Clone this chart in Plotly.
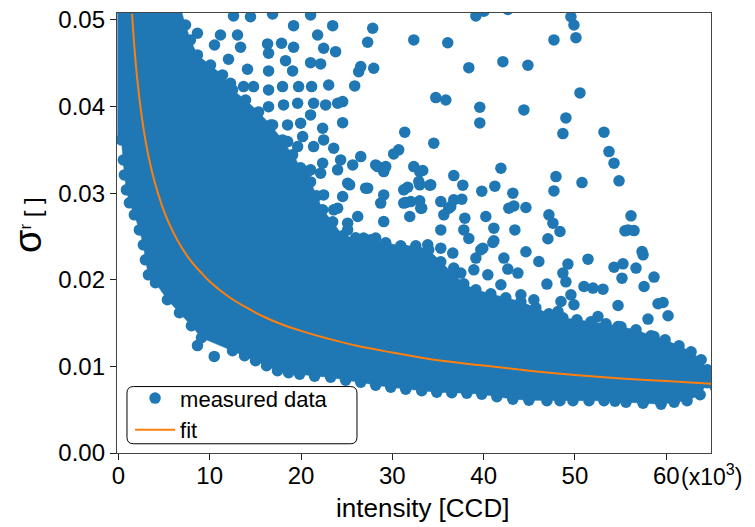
import plotly.graph_objects as go

# ---- measured data: isolated points (intensity in 10^3 CCD, sigma_r) ----
meas_x = [39.15, 40.02, 42.65, 49.56, 49.89, 36.07, 47.70, 50.11, 38.38, 42.11,
          44.85, 34.76, 35.86, 39.58, 44.41, 50.55, 49.01, 39.58, 48.68, 53.18,
          34.54, 53.73, 54.28, 54.83, 41.89, 47.92, 50.77, 36.73, 37.72, 33.33,
          34.10, 41.23, 39.80, 43.20, 47.70, 35.31, 36.73, 37.61, 36.18, 35.64,
          37.94, 40.24, 42.76, 43.31, 44.63, 47.15, 56.14, 55.81, 47.59, 41.12,
          43.42, 37.83, 35.31, 31.69, 33.00, 34.21, 31.47, 33.00, 33.22, 36.40,
          48.36, 47.04, 55.48, 56.47, 31.91, 38.38, 41.12, 39.91, 39.15, 42.22,
          44.63, 46.05, 49.23, 51.43, 48.68, 49.01, 46.93, 42.65, 43.75, 54.28,
          55.26, 55.15, 56.69, 57.35, 57.46, 58.66, 57.57, 50.99, 51.97, 53.07,
          54.72, 59.10, 59.65, 60.20, 58.00, 52.52, 49.56, 48.47, 49.89, 48.14,
          33.88, 35.31, 36.62, 39.69, 41.01, 58.66, 54.72, 37.83, 38.93, 36.73,
          37.50, 38.93, 40.46, 41.89, 44.08, 45.50, 19.19, 23.47, 27.85, 32.35,
          21.82, 27.30, 16.34, 17.87, 19.19, 22.48, 23.79, 16.45, 18.31, 21.05,
          22.15, 26.54, 27.96, 26.32, 19.08, 14.14, 16.45, 12.06, 13.38, 13.05,
          10.53, 11.18, 8.66, 21.05, 16.89, 14.47, 12.61, 25.88, 23.03, 21.16,
          19.74, 17.98, 16.45, 14.80, 13.71, 12.28, 24.56, 24.01, 22.70, 21.38,
          19.63, 18.09, 16.45, 24.56, 22.37, 21.05, 19.96, 18.53, 16.89, 15.57,
          31.36, 30.70, 30.15, 26.54, 25.66, 23.58, 22.48, 21.38, 19.63, 20.18,
          18.53, 17.00, 28.18, 29.28, 33.00, 24.34, 22.37, 21.05, 19.96, 18.86,
          17.76, 15.90, 14.14, 12.83, 14.80, 11.95, 10.86, 12.28, 25.11, 27.30,
          29.06, 31.25, 32.90, 32.02, 33.11, 29.06, 26.21, 23.58, 21.38, 19.96,
          18.53, 22.15, 25.11, 22.48, 25.33, 27.08, 31.25, 28.73, 24.56, 24.01,
          25.11, 26.86, 28.18, 29.50, 31.25, 32.79, 26.86, 25.44, 26.54, 29.06,
          30.92, 30.37, 21.05, 19.63, 22.15, 24.01, 20.72, 19.19, 18.09, 28.40,
          29.06, 32.35, 10.50, 8.66]
meas_y = [0.05046, 0.05100, 0.05120, 0.05037, 0.04942, 0.04737, 0.04769, 0.04795, 0.04449, 0.04518,
          0.04477, 0.04103, 0.04076, 0.03992, 0.03961, 0.04157, 0.03869, 0.03811, 0.03688, 0.03704,
          0.03577, 0.03480, 0.03346, 0.03142, 0.03288, 0.03191, 0.03122, 0.03203, 0.03092, 0.03261,
          0.03092, 0.03081, 0.03023, 0.03000, 0.03026, 0.02903, 0.02923, 0.02931, 0.02827, 0.02750,
          0.02711, 0.02730, 0.02827, 0.02853, 0.02834, 0.02750, 0.02738, 0.02576, 0.02654, 0.02596,
          0.02576, 0.02576, 0.02576, 0.03069, 0.03096, 0.03096, 0.02891, 0.02911, 0.02827, 0.02845,
          0.02557, 0.02473, 0.02565, 0.02568, 0.02730, 0.02476, 0.02450, 0.02365, 0.02250, 0.02250,
          0.02323, 0.02211, 0.02181, 0.02238, 0.02077, 0.01976, 0.01950, 0.02123, 0.02077, 0.02146,
          0.02184, 0.02019, 0.02135, 0.02326, 0.02288, 0.02031, 0.01922, 0.01922, 0.01904, 0.01892,
          0.01703, 0.01723, 0.01738, 0.01584, 0.01546, 0.01576, 0.01826, 0.01749, 0.01711, 0.01634,
          0.02403, 0.02365, 0.02308, 0.02346, 0.02430, 0.01345, 0.01461, 0.01865, 0.01731, 0.02135,
          0.02077, 0.02115, 0.02057, 0.01942, 0.01826, 0.01769, 0.04934, 0.04934, 0.04904, 0.04769,
          0.04826, 0.04742, 0.04723, 0.04731, 0.04684, 0.04673, 0.04634, 0.04615, 0.04530, 0.04507,
          0.04492, 0.04461, 0.04442, 0.04403, 0.04411, 0.04431, 0.04411, 0.04546, 0.04684, 0.04826,
          0.04711, 0.04826, 0.04846, 0.05057, 0.05069, 0.05037, 0.05046, 0.04238, 0.04249, 0.04230,
          0.04230, 0.04230, 0.04192, 0.04230, 0.04230, 0.04269, 0.04057, 0.04038, 0.04019, 0.04038,
          0.04038, 0.04019, 0.03999, 0.03814, 0.03750, 0.03903, 0.03808, 0.03788, 0.03788, 0.03768,
          0.03704, 0.03500, 0.03453, 0.03422, 0.03326, 0.03519, 0.03615, 0.03538, 0.03538, 0.03653,
          0.03595, 0.03461, 0.03326, 0.03307, 0.03249, 0.03384, 0.03346, 0.03269, 0.03269, 0.03384,
          0.03307, 0.03422, 0.03500, 0.03653, 0.03615, 0.03846, 0.04038, 0.04019, 0.03115, 0.03058,
          0.02980, 0.03038, 0.03134, 0.02903, 0.02827, 0.02672, 0.02730, 0.02807, 0.02903, 0.03038,
          0.02961, 0.02692, 0.02654, 0.02980, 0.03096, 0.03058, 0.02885, 0.02885, 0.02961, 0.02827,
          0.02576, 0.02481, 0.02481, 0.02365, 0.02346, 0.02288, 0.02268, 0.02326, 0.02153, 0.02230,
          0.02192, 0.02077, 0.02923, 0.03076, 0.03231, 0.03269, 0.03249, 0.03269, 0.03231, 0.03307,
          0.03249, 0.03307, 0.01115, 0.01240]

# ---- measured data: points on the rim of the densely packed region ----
upper_x = [6.80, 7.35, 7.89, 8.66, 10.09, 11.40, 12.50, 13.93, 15.35, 16.67,
           17.98, 19.08, 19.96, 21.05, 21.71, 22.37, 23.47, 24.56, 25.99, 27.63,
           29.28, 30.92, 32.57, 33.99, 35.31, 36.62, 37.83, 39.15, 40.79, 42.43,
           44.08, 45.72, 47.15, 48.68, 50.22, 51.75, 53.40, 55.04, 56.69, 58.33,
           59.87, 61.40, 62.72, 63.82, 64.48, 64.69]
upper_y = [0.05138, 0.04942, 0.04769, 0.04596, 0.04480, 0.04365, 0.04192, 0.04076, 0.03938, 0.03788,
           0.03615, 0.03442, 0.03292, 0.03130, 0.02969, 0.02807, 0.02669, 0.02507, 0.02484, 0.02461,
           0.02426, 0.02392, 0.02392, 0.02346, 0.02207, 0.02069, 0.01953, 0.01884, 0.01838, 0.01792,
           0.01746, 0.01676, 0.01607, 0.01561, 0.01538, 0.01515, 0.01492, 0.01457, 0.01423, 0.01353,
           0.01307, 0.01238, 0.01169, 0.01077, 0.00961, 0.00869]
lower_x = [4.06, 5.37, 6.69, 8.00, 9.10, 12.50, 13.82, 15.02, 16.23, 17.43,
           18.64, 19.85, 21.49, 23.25, 24.89, 26.54, 28.18, 29.83, 31.47, 33.22,
           34.87, 36.51, 38.16, 39.80, 41.45, 43.20, 44.96, 46.93, 48.36, 49.78,
           51.54, 53.18, 54.39, 55.59, 57.46, 59.43, 60.86, 62.28, 63.71, 64.48]
lower_y = [0.01965, 0.01769, 0.01619, 0.01469, 0.01330, 0.01180, 0.01123, 0.01065, 0.01007, 0.00950,
           0.00927, 0.00909, 0.00886, 0.00875, 0.00840, 0.00817, 0.00782, 0.00759, 0.00736, 0.00719,
           0.00702, 0.00696, 0.00690, 0.00678, 0.00650, 0.00621, 0.00609, 0.00603, 0.00603, 0.00603,
           0.00603, 0.00603, 0.00598, 0.00586, 0.00575, 0.00563, 0.00586, 0.00603, 0.00673, 0.00811]
left_x = [3.29, 2.96, 2.74, 2.30, 1.75, 1.21, 0.88, 0.66, 0.55, 0.33]
left_y = [0.02057, 0.02230, 0.02403, 0.02576, 0.02750, 0.02888, 0.03038, 0.03211, 0.03384, 0.03615]

# corners of the packed region at the plot edges
corner_x = [-0.11, 65.13, 65.13, -0.11]
corner_y = [0.05138, 0.00869, 0.00673, 0.03615]

# ---- fit curve ----
fit_x = [1.5, 1.75, 2, 2.5, 3, 3.5, 4, 5, 6, 7, 8, 9, 10, 12, 14, 16, 18, 20,
         23, 26, 30, 35, 40, 45, 50, 55, 60, 65]
fit_y = [0.0507, 0.0469, 0.0439, 0.0393, 0.0359, 0.0333, 0.0312, 0.0279, 0.0255,
         0.0236, 0.0221, 0.0209, 0.0198, 0.0181, 0.0168, 0.0157, 0.0148, 0.0141,
         0.0132, 0.0124, 0.0116, 0.0107, 0.0101, 0.0095, 0.0090, 0.0086, 0.0083, 0.0080]

x_ticks = [0, 10, 20, 30, 40, 50, 60]
y_ticks = [0.00, 0.01, 0.02, 0.03, 0.04, 0.05]

BLUE = "#1f77b4"
ORANGE = "#ff7f0e"
FONT = "Liberation Sans"

# outline of the packed region (clockwise)
poly_x = ([corner_x[0]] + upper_x + [corner_x[1], corner_x[2]] + lower_x[::-1]
          + left_x + [corner_x[3]])
poly_y = ([corner_y[0]] + upper_y + [corner_y[1], corner_y[2]] + lower_y[::-1]
          + left_y + [corner_y[3]])

all_x = meas_x + upper_x + lower_x + left_x
all_y = meas_y + upper_y + lower_y + left_y

fig = go.Figure()
fig.add_trace(go.Scatter(
    x=poly_x, y=poly_y, mode="lines", fill="toself",
    fillcolor=BLUE, line=dict(color=BLUE, width=0.5),
    showlegend=False, hoverinfo="skip"))
fig.add_trace(go.Scatter(
    x=all_x, y=all_y, mode="markers", name="measured data",
    marker=dict(color=BLUE, size=11.5, line=dict(width=0))))
fig.add_trace(go.Scatter(
    x=fit_x, y=fit_y, mode="lines", name="fit",
    line=dict(color=ORANGE, width=2, shape="spline")))

axis_common = dict(
    showline=True, linecolor="#444", linewidth=1.3, mirror=True,
    ticks="outside", ticklen=6, tickwidth=1.2, tickcolor="#222",
    showgrid=False, zeroline=False, automargin=False,
    tickfont=dict(family=FONT, size=24, color="black"))

fig.update_xaxes(range=[-0.15, 64.9], tickvals=x_ticks,
                 ticktext=[str(v) for v in x_ticks], ticklabelstandoff=-5,
                 **axis_common)
fig.update_yaxes(range=[0, 0.0508], tickvals=y_ticks,
                 ticktext=[f"{v:.2f}" for v in y_ticks], **axis_common)

# rounded frame behind the legend (paper coordinates)
bx0, bx1, by0, by1 = 0.0168, 0.404, 0.021, 0.151
rx, ry = 0.011, 0.015
frame_path = (f"M {bx0+rx},{by0} L {bx1-rx},{by0} Q {bx1},{by0} {bx1},{by0+ry} "
              f"L {bx1},{by1-ry} Q {bx1},{by1} {bx1-rx},{by1} "
              f"L {bx0+rx},{by1} Q {bx0},{by1} {bx0},{by1-ry} "
              f"L {bx0},{by0+ry} Q {bx0},{by0} {bx0+rx},{by0} Z")

fig.update_layout(
    width=755, height=527,
    margin=dict(l=117, r=44, t=13, b=74, pad=0),
    plot_bgcolor="white", paper_bgcolor="white",
    font=dict(family=FONT, color="black"),
    legend=dict(x=0.022, y=0.172, xanchor="left", yanchor="top",
                bgcolor="rgba(0,0,0,0)", borderwidth=0,
                font=dict(family=FONT, size=22, color="black"),
                itemwidth=40, tracegroupgap=0),
    shapes=[dict(type="path", path=frame_path, xref="paper", yref="paper",
                 fillcolor="rgba(255,255,255,0.85)",
                 line=dict(color="black", width=1), layer="above")],
    annotations=[
        dict(text="intensity [CCD]", x=0.515, y=-0.124, xref="paper", yref="paper",
             xanchor="center", yanchor="middle", showarrow=False,
             font=dict(family=FONT, size=26, color="black")),
        dict(text="(x10<sup>3</sup>)", x=0.946, y=-0.05, xref="paper", yref="paper",
             xanchor="left", yanchor="middle", showarrow=False,
             font=dict(family=FONT, size=23, color="black")),
        dict(text="<span style='font-size:38px'>σ</span><sup>r</sup> [ ]",
             x=-0.15, y=0.518, xref="paper", yref="paper", textangle=-90,
             xanchor="center", yanchor="middle", showarrow=False,
             font=dict(family=FONT, size=24, color="black")),
    ],
)

fig.write_html("out.html")
